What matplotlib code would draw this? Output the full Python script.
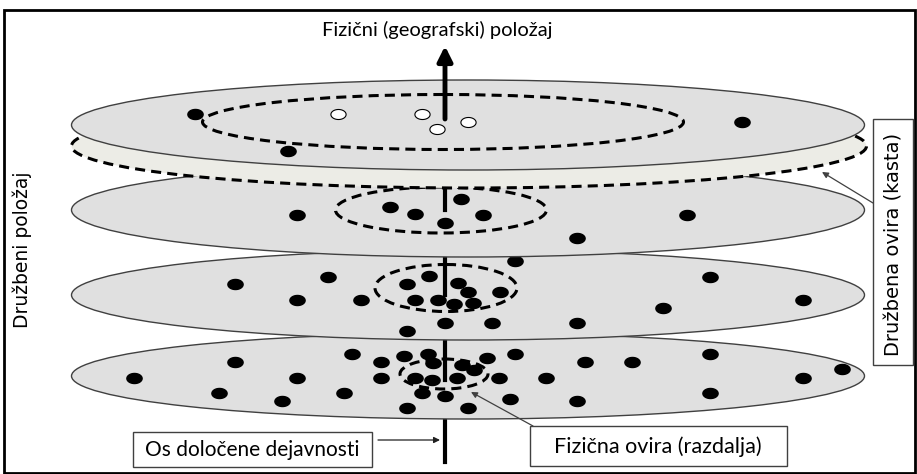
import numpy as np
import matplotlib
matplotlib.use("Agg")
import matplotlib.pyplot as plt
from matplotlib.patches import Ellipse, Rectangle
from matplotlib.path import Path

# discs: center y, height (pixel units of the picture)
disc_y = [125, 210, 295, 376]
disc_h = [90, 94, 90, 86]
disc_x = 468
disc_w = 793

# inner dashed "physical barrier" ellipses: cx, cy, w, h
barrier_cx = [443, 441, 446, 444]
barrier_cy = [122, 210, 288, 374]
barrier_w = [481, 211, 142, 88]
barrier_h = [55, 46, 47, 30]

# people on every disc
top_black_x = [195, 288, 742]
top_black_y = [114, 151, 122]
top_white_x = [338, 422, 437, 468]
top_white_y = [114, 114, 129, 122]

d2_x = [297, 390, 415, 445, 461, 483, 687, 577]
d2_y = [215, 207, 214, 223, 199, 215, 215, 238]

d3_x = [235, 328, 297, 361, 407, 429, 458, 468, 500, 415, 438, 454, 473, 445, 407, 492, 577, 663, 710, 803, 515]
d3_y = [284, 277, 300, 300, 284, 276, 283, 292, 292, 300, 300, 304, 303, 323, 331, 323, 323, 308, 277, 300, 261]

d4_x = [134, 235, 219, 282, 297, 352, 344, 381, 381, 404, 428, 433, 415, 432, 457, 462, 474, 422, 445, 407, 468,
        487, 515, 499, 546, 585, 632, 710, 803, 842, 510, 577, 710]
d4_y = [378, 362, 393, 401, 378, 354, 393, 362, 378, 356, 354, 363, 378, 380, 378, 365, 370, 393, 396, 408, 408,
        358, 354, 378, 378, 362, 362, 354, 378, 369, 399, 401, 393]

axis_x = 445

plt.rcParams["hatch.color"] = "#b8b8b0"
plt.rcParams["hatch.linewidth"] = 0.7

t = np.linspace(0, 2 * np.pi, 60)
dot = Path(np.column_stack([np.cos(t), 0.66 * np.sin(t)]), closed=True)

fig = plt.figure(figsize=(9.17, 4.74), dpi=100)
ax = fig.add_axes([0, 0, 1, 1])
ax.set_xlim(0, 917)
ax.set_ylim(474, 0)
ax.axis("off")

ax.add_patch(Rectangle((4, 10), 911, 463, fill=False, lw=2, ec="black", zorder=0))

dash = (0, (3.3, 2.0))
grey = "#e0e0e0"


def disc(i, z):
    ax.add_patch(Ellipse((disc_x, disc_y[i]), disc_w, disc_h[i], fc=grey, ec="#404040", lw=1, zorder=z))
    ax.add_patch(Ellipse((barrier_cx[i], barrier_cy[i]), barrier_w[i], barrier_h[i], fill=False,
                         ec="black", lw=2.2, ls=dash, zorder=z + 0.2))


# axis below the lowest disc
ax.plot([axis_x, axis_x], [462, disc_y[3]], color="black", lw=3, zorder=1)

disc(3, 2)
ax.scatter(d4_x, d4_y, marker=dot, s=120, color="black", zorder=2.5)
ax.plot([axis_x, axis_x], [380, 250], color="black", lw=3, zorder=2.6)

disc(2, 4)
ax.scatter(d3_x, d3_y, marker=dot, s=120, color="black", zorder=4.5)
ax.plot([axis_x, axis_x], [295, 170], color="black", lw=3, zorder=4.6)

disc(1, 6)
ax.scatter(d2_x, d2_y, marker=dot, s=120, color="black", zorder=6.5)
ax.plot([axis_x, axis_x], [210, 150], color="black", lw=3, zorder=6.6)

# social barrier (caste) band
ax.add_patch(Ellipse((469, 146), 795, 84, fc="#ececE6", ec="none", hatch="......", lw=0, zorder=8))
ax.add_patch(Ellipse((469, 146), 795, 84, fill=False, ec="black", lw=2.2, ls=dash, zorder=8.2))

disc(0, 9)
ax.scatter(top_black_x, top_black_y, marker=dot, s=120, color="black", zorder=9.5)
ax.scatter(top_white_x, top_white_y, marker=dot, s=120, fc="white", ec="black", lw=0.8, zorder=9.5)
ax.annotate("", xy=(axis_x, 46), xytext=(axis_x, 119),
            arrowprops=dict(arrowstyle="-|>", lw=3.5, color="black", mutation_scale=22, shrinkA=0, shrinkB=0),
            zorder=10)

ax.text(437, 30, "Fizični (geografski) položaj", ha="center", va="center", fontsize=14.5,
        family="Lato", zorder=11)
ax.text(22, 250, "Družbeni položaj", ha="center", va="center", rotation=90, fontsize=13.5,
        family="DejaVu Sans", zorder=11)

# right label box
ax.add_patch(Rectangle((873, 119), 40, 246, fc="white", ec="#404040", lw=1, zorder=11))
ax.text(894, 244, "Družbena ovira (kasta)", ha="center", va="center", rotation=90, fontsize=14,
        family="DejaVu Sans", zorder=12)
ax.annotate("", xy=(822, 172), xytext=(873, 203),
            arrowprops=dict(arrowstyle="-|>", lw=0.9, color="#404040", mutation_scale=9, shrinkA=0, shrinkB=0),
            zorder=11)

# bottom label boxes
ax.add_patch(Rectangle((133, 432), 239, 35, fc="white", ec="#404040", lw=1, zorder=11))
ax.text(252, 450, "Os določene dejavnosti", ha="center", va="center", fontsize=15, family="Lato", zorder=12)
ax.annotate("", xy=(440, 440), xytext=(378, 440),
            arrowprops=dict(arrowstyle="-|>", lw=0.9, color="#202020", mutation_scale=9, shrinkA=0, shrinkB=0),
            zorder=11)

ax.add_patch(Rectangle((530, 426), 257, 40, fc="white", ec="#404040", lw=1, zorder=11))
ax.text(658, 447, "Fizična ovira (razdalja)", ha="center", va="center", fontsize=15.5, family="Lato", zorder=12)
ax.annotate("", xy=(471, 392), xytext=(533, 426),
            arrowprops=dict(arrowstyle="-|>", lw=0.9, color="#404040", mutation_scale=9, shrinkA=0, shrinkB=0),
            zorder=11)

fig.savefig("out.png", dpi=100)
